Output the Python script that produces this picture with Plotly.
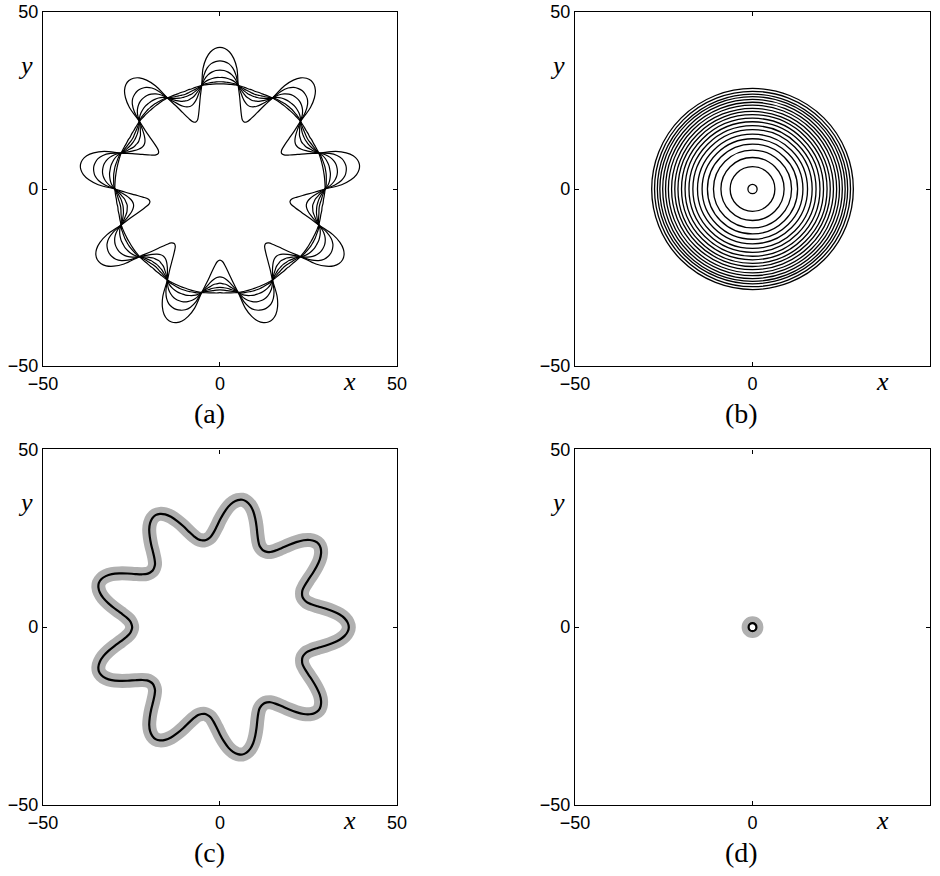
import numpy as np
import plotly.graph_objects as go

# Half-period radial profile: angular offset (deg) from a lobe axis to the next trough
PROFILE_DEG = [0, 2, 4, 6, 8, 10, 12, 14, 16, 18, 20]
LOBES = 9

# (a) interface at successive stages (radius vs. PROFILE_DEG), outermost first
STAGE_RADII_A = [
    [40.0, 39.7, 38.8, 37.1, 34.4, 29.7, 26.7, 24.0, 21.9, 20.5, 20.1],
    [36.2, 36.0, 35.5, 34.4, 32.5, 29.7, 28.0, 26.6, 25.6, 25.0, 24.8],
    [33.6, 33.5, 33.1, 32.4, 31.3, 29.7, 28.6, 27.8, 27.1, 26.8, 26.6],
    [31.5, 31.5, 31.3, 31.0, 30.5, 29.7, 29.0, 28.5, 28.1, 27.9, 27.8],
    [30.3, 30.3, 30.2, 30.1, 30.0, 29.7, 29.3, 29.0, 28.8, 28.6, 28.5],
    [29.7, 29.7, 29.7, 29.7, 29.7, 29.7, 29.6, 29.5, 29.4, 29.4, 29.3],
]
LOBE_AXIS_A = 90

# (b) concentric level curves
RING_RADII_B = [1.3, 6.3, 8.9, 11.0, 12.7, 14.2, 15.5, 16.8, 17.9, 19.0, 20.0,
                21.0, 21.9, 22.8, 23.7, 24.5, 25.3, 26.1, 26.8, 27.6, 28.4]

# (c) single front with its narrow band
FRONT_RADII_C = [36.4, 36.1, 35.3, 34.0, 32.2, 30.2, 28.2, 26.6, 25.5, 25.0, 24.8]
LOBE_AXIS_C = 0

# (d) collapsed front
RING_RADII_D = [1.1]

AX_RANGE = [-50, 50]
TICKS = [-50, 0, 50]
TICK_TEXT = ["\u221250", "0", "50"]
PANEL_TAGS = ["(a)", "(b)", "(c)", "(d)"]

# subplot boxes in paper coordinates
X_DOMAINS = [[0.0457, 0.4223], [0.6117, 0.9894], [0.0457, 0.4223], [0.6117, 0.9894]]
Y_DOMAINS = [[0.5822, 0.9863], [0.5822, 0.9863], [0.0813, 0.4869], [0.0813, 0.4869]]


def star_curve(radii, axis_deg):
    """Closed curve built from a half-period profile repeated around the circle."""
    offs = [-d for d in reversed(PROFILE_DEG)] + PROFILE_DEG[1:-1]
    rr = list(reversed(radii)) + radii[1:-1]
    period = 360.0 / LOBES
    ang, rad = [], []
    for k in range(LOBES):
        c = axis_deg + k * period
        ang += [c + o for o in offs]
        rad += rr
    ang.append(ang[0])
    rad.append(rad[0])
    t = np.deg2rad(np.array(ang))
    r = np.array(rad)
    return r * np.cos(t), r * np.sin(t)


fig = go.Figure()

axis_common = dict(
    range=AX_RANGE, tickvals=TICKS, ticktext=TICK_TEXT, ticks="inside", ticklen=4,
    tickwidth=1, tickcolor="black", showline=True, linecolor="black", linewidth=1.3,
    mirror="ticks", showgrid=False, zeroline=False, automargin=False,
    tickfont=dict(family="Liberation Sans, Arial, sans-serif", size=18, color="black"),
)

for i in range(4):
    n = "" if i == 0 else str(i + 1)
    fig.layout["xaxis" + n] = dict(axis_common, domain=X_DOMAINS[i], anchor="y" + n,
                                   ticklabelstandoff=1)
    fig.layout["yaxis" + n] = dict(axis_common, domain=Y_DOMAINS[i], anchor="x" + n,
                                   ticklabelstandoff=0)

line_kw = dict(mode="lines", showlegend=False, hoverinfo="skip")

# (a) evolving stages
for radii in STAGE_RADII_A:
    x, y = star_curve(radii, LOBE_AXIS_A)
    fig.add_trace(go.Scatter(x=x, y=y, xaxis="x", yaxis="y",
                             line=dict(color="black", width=1.2, shape="spline", smoothing=1),
                             **line_kw))

# (b) concentric rings
for r in RING_RADII_B:
    fig.add_shape(type="circle", xref="x2", yref="y2", x0=-r, y0=-r, x1=r, y1=r,
                  line=dict(color="black", width=1.3))

# (c) band then front
xc, yc = star_curve(FRONT_RADII_C, LOBE_AXIS_C)
fig.add_trace(go.Scatter(x=xc, y=yc, xaxis="x3", yaxis="y3",
                         line=dict(color="#b0b0b0", width=14, shape="spline", smoothing=1),
                         **line_kw))
fig.add_trace(go.Scatter(x=xc, y=yc, xaxis="x3", yaxis="y3",
                         line=dict(color="black", width=2.2, shape="spline", smoothing=1),
                         **line_kw))

# (d) band then front
for r in RING_RADII_D:
    fig.add_shape(type="circle", xref="x4", yref="y4", x0=-r, y0=-r, x1=r, y1=r,
                  line=dict(color="#b0b0b0", width=14))
    fig.add_shape(type="circle", xref="x4", yref="y4", x0=-r, y0=-r, x1=r, y1=r,
                  line=dict(color="black", width=2.2))

serif = "Liberation Serif, Times New Roman, serif"
ann_kw = dict(showarrow=False, xanchor="center", yanchor="middle")
for i in range(4):
    n = "" if i == 0 else str(i + 1)
    xd = "x%s domain" % n
    yd = "y%s domain" % n
    fig.add_annotation(xref=xd, yref=yd, x=-0.048, y=0.85, text="<i>y</i>",
                       font=dict(family=serif, size=26, color="black"), **ann_kw)
    fig.add_annotation(xref=xd, yref=yd, x=0.867, y=-0.044, text="<i>x</i>",
                       font=dict(family=serif, size=26, color="black"), **ann_kw)
    fig.add_annotation(xref=xd, yref=yd, x=0.47, y=-0.133, text=PANEL_TAGS[i],
                       font=dict(family=serif, size=28, color="black"), **ann_kw)

fig.update_layout(width=940, height=876, margin=dict(l=0, r=0, t=0, b=0),
                  paper_bgcolor="white", plot_bgcolor="white")

fig.write_html("out.html")
